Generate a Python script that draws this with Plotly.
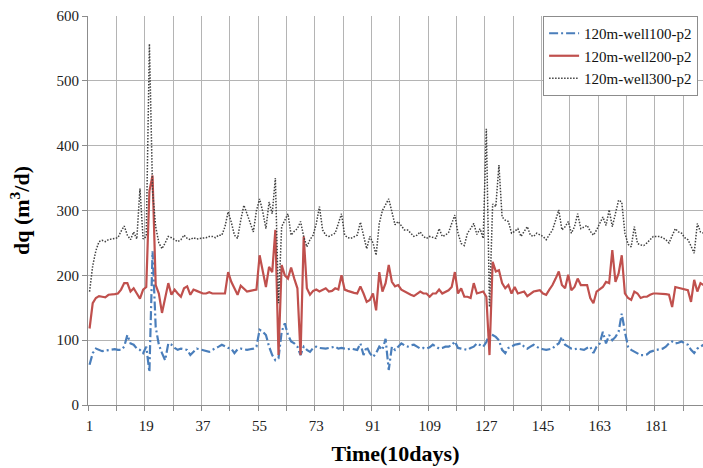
import plotly.graph_objects as go

well100 = [62, 80, 87, 85, 83, 84, 85, 85, 86, 85, 85, 90, 108, 95, 93, 87, 85, 80, 90, 51,
           237, 120, 93, 80, 69, 95, 93, 88, 85, 87, 86, 85, 77, 82, 87, 86, 85, 84, 82, 85,
           87, 90, 93, 90, 88, 87, 80, 86, 87, 86, 85, 86, 87, 90, 116, 113, 108, 90, 77, 69,
           72, 113, 126, 108, 98, 95, 90, 77, 90, 85, 82, 88, 90, 88, 87, 87, 88, 89, 90, 87,
           88, 87, 86, 87, 86, 85, 95, 77, 90, 80, 74, 80, 90, 85, 102, 54, 90, 85, 90, 95,
           92, 90, 92, 93, 90, 87, 88, 87, 89, 93, 90, 87, 88, 90, 90, 92, 98, 88, 87, 86,
           85, 88, 90, 95, 92, 90, 97, 110, 108, 105, 100, 85, 80, 88, 90, 93, 94, 95, 90, 87,
           90, 93, 90, 87, 86, 85, 86, 87, 92, 95, 105, 93, 90, 87, 86, 87, 86, 85, 88, 90,
           80, 90, 95, 113, 95, 108, 100, 105, 113, 141, 113, 90, 85, 82, 80, 77, 77, 78, 82, 84,
           85, 86, 87, 90, 95, 98, 95, 96, 98, 95, 93, 85, 80, 87, 90, 93]

well200 = [118, 157, 165, 168, 167, 166, 170, 170, 171, 172, 178, 188, 188, 175, 180, 172, 164, 178, 182, 330,
           354, 185, 172, 142, 165, 188, 170, 178, 172, 167, 180, 183, 170, 178, 176, 174, 172, 172, 174, 172,
           172, 173, 172, 172, 205, 190, 180, 170, 184, 180, 175, 176, 177, 178, 231, 208, 182, 213, 205, 270,
           77, 216, 200, 195, 212, 195, 180, 77, 260, 180, 170, 176, 178, 175, 177, 180, 175, 176, 180, 178,
           200, 178, 176, 174, 173, 172, 183, 172, 159, 162, 172, 146, 205, 175, 188, 216, 190, 183, 185, 178,
           175, 172, 170, 168, 172, 175, 172, 172, 167, 172, 172, 178, 172, 174, 177, 182, 205, 172, 180, 167,
           167, 165, 188, 172, 174, 175, 167, 77, 221, 206, 208, 188, 180, 185, 172, 182, 172, 173, 175, 168,
           172, 175, 176, 177, 172, 170, 178, 185, 195, 206, 185, 180, 201, 177, 182, 195, 185, 185, 185, 165,
           157, 175, 178, 182, 190, 188, 239, 190, 203, 231, 172, 165, 162, 175, 172, 165, 167, 167, 170, 172,
           172, 172, 172, 171, 170, 151, 182, 181, 180, 178, 177, 159, 193, 175, 188, 185]

well300 = [175, 215, 238, 252, 254, 252, 255, 256, 256, 258, 268, 276, 262, 255, 267, 256, 334, 256, 260, 557,
           330, 275, 250, 241, 250, 260, 258, 255, 252, 255, 262, 257, 255, 258, 256, 257, 257, 258, 260, 260,
           258, 262, 262, 275, 298, 282, 262, 257, 285, 308, 295, 280, 267, 300, 318, 298, 272, 313, 295, 350,
           157, 275, 285, 295, 262, 268, 272, 283, 260, 244, 255, 262, 280, 306, 270, 262, 260, 262, 265, 280,
           295, 262, 258, 257, 260, 262, 282, 262, 241, 260, 250, 231, 280, 300, 310, 318, 298, 278, 283, 276,
           270, 270, 265, 260, 262, 267, 260, 257, 260, 258, 257, 272, 260, 262, 266, 280, 293, 265, 249, 246,
           265, 272, 280, 263, 272, 257, 426, 151, 310, 306, 370, 290, 285, 283, 265, 268, 272, 260, 268, 275,
           262, 260, 265, 262, 260, 255, 262, 270, 285, 301, 270, 275, 283, 265, 275, 295, 272, 275, 277, 268,
           262, 270, 280, 290, 277, 301, 275, 295, 316, 313, 265, 248, 244, 275, 249, 247, 246, 250, 255, 260,
           260, 260, 258, 255, 250, 262, 272, 267, 265, 258, 255, 245, 234, 280, 267, 265]

time = list(range(1, len(well100) + 1))
x_tick_labels = [1, 19, 37, 55, 73, 91, 109, 127, 145, 163, 181]

SERIF = "Liberation Serif, Times New Roman, serif"
GRID = "#b4b4b4"

fig = go.Figure()
fig.add_trace(go.Scatter(x=time, y=well100, mode="lines", name="120m-well100-p2",
                         line=dict(color="#4a7ebb", width=2.2, dash="9px,3px,2px,3px")))
fig.add_trace(go.Scatter(x=time, y=well200, mode="lines", name="120m-well200-p2",
                         line=dict(color="#c0504d", width=2.2)))
fig.add_trace(go.Scatter(x=time, y=well300, mode="lines", name="120m-well300-p2",
                         line=dict(color="#404040", width=1.5, dash="1.5px,1.5px")))

fig.update_layout(
    width=703, height=468,
    margin=dict(l=88, r=0, t=16, b=63),
    paper_bgcolor="white", plot_bgcolor="white",
    font=dict(family=SERIF, size=15, color="#222222"),
    showlegend=True,
    legend=dict(x=0.74, y=1.0, xanchor="left", yanchor="top",
                bgcolor="white", bordercolor="#8c8c8c", borderwidth=1,
                tracegroupgap=0,
                font=dict(family=SERIF, size=15, color="#111111")),
    xaxis=dict(range=[0.5, 195.8], tickmode="array", tickvals=x_tick_labels,
               ticktext=[str(v) for v in x_tick_labels], showgrid=False,
               ticks="outside", ticklen=7, tickcolor="rgba(0,0,0,0)",
               showline=True, linecolor="#8c8c8c", linewidth=1, zeroline=False,
               tickfont=dict(family=SERIF, size=15, color="#222222"),
               minor=dict(tickmode="linear", tick0=0.5, dtick=9, showgrid=True,
                          gridcolor=GRID, gridwidth=1, ticks="outside", ticklen=5,
                          tickcolor="#8c8c8c"),
               title=dict(text="<b>Time(10days)</b>", standoff=12,
                          font=dict(family=SERIF, size=22, color="#000000"))),
    yaxis=dict(range=[0, 600], dtick=100, showgrid=True, gridcolor=GRID, gridwidth=1,
               showline=True, linecolor="#8c8c8c", linewidth=1, zeroline=False,
               ticks="outside", ticklen=5, tickcolor="#8c8c8c",
               tickfont=dict(family=SERIF, size=15, color="#222222"),
               title=dict(text="<b>dq (m<sup>3</sup>/d)</b>", standoff=20,
                          font=dict(family=SERIF, size=22, color="#000000"))),
)

fig.write_html("out.html", config={"displayModeBar": False},
               post_script="document.body.style.margin='0';")
